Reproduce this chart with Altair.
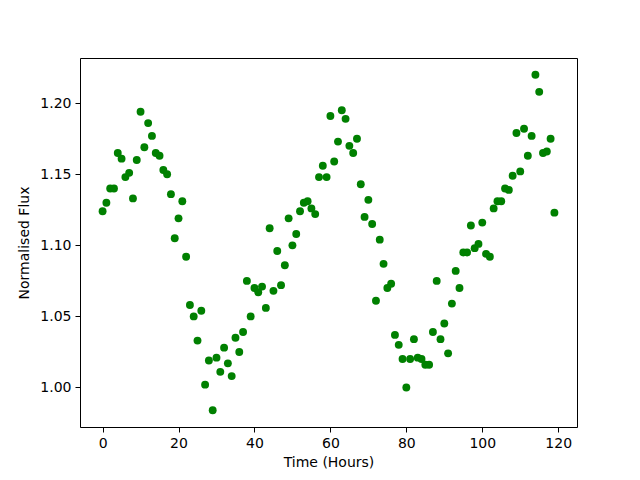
import altair as alt
import pandas as pd

hours = list(range(120))
flux = [
    1.124, 1.130, 1.140, 1.140, 1.165, 1.161, 1.148, 1.151, 1.133, 1.160,
    1.194, 1.169, 1.186, 1.177, 1.165, 1.163, 1.153, 1.150, 1.136, 1.105,
    1.119, 1.131, 1.092, 1.058, 1.050, 1.033, 1.054, 1.002, 1.019, 0.984,
    1.021, 1.011, 1.028, 1.017, 1.008, 1.035, 1.025, 1.039, 1.075, 1.050,
    1.070, 1.067, 1.071, 1.056, 1.112, 1.068, 1.096, 1.072, 1.086, 1.119,
    1.100, 1.108, 1.124, 1.130, 1.131, 1.126, 1.122, 1.148, 1.156, 1.148,
    1.191, 1.159, 1.173, 1.195, 1.189, 1.170, 1.165, 1.175, 1.143, 1.120,
    1.132, 1.115, 1.061, 1.104, 1.087, 1.070, 1.073, 1.037, 1.030, 1.020,
    1.000, 1.020, 1.034, 1.021, 1.020, 1.016, 1.016, 1.039, 1.075, 1.034,
    1.045, 1.024, 1.059, 1.082, 1.070, 1.095, 1.095, 1.114, 1.098, 1.101,
    1.116, 1.094, 1.092, 1.126, 1.131, 1.131, 1.140, 1.139, 1.149, 1.179,
    1.152, 1.182, 1.163, 1.177, 1.220, 1.208, 1.165, 1.166, 1.175, 1.123,
]
x_ticks = [0, 20, 40, 60, 80, 100, 120]
y_ticks = [1.00, 1.05, 1.10, 1.15, 1.20]

df = pd.DataFrame({"hours": hours, "flux": flux})

FONT = "DejaVu Sans"
xscale = alt.Scale(domain=[-5.95, 124.95], nice=False, zero=False)
yscale = alt.Scale(domain=[0.9722, 1.2318], nice=False, zero=False)

common = dict(
    grid=False, tickSize=5, tickColor="black", domainColor="black",
    domainWidth=1, tickWidth=1,
    labelFontSize=14, titleFontSize=14, labelPadding=4,
    labelFont=FONT, titleFont=FONT, labelColor="black", titleColor="black",
    titleFontWeight="normal",
)

points = alt.Chart(df).mark_circle(size=62, color="#008000", opacity=1).encode(
    x=alt.X(
        "hours:Q", scale=xscale,
        axis=alt.Axis(title="Time (Hours)", values=x_ticks, format="d",
                      titlePadding=5, **common),
    ),
    y=alt.Y(
        "flux:Q", scale=yscale,
        axis=alt.Axis(title="Normalised Flux", values=y_ticks, format=".2f",
                      titlePadding=8, **common),
    ),
)

frame = alt.Chart(df).mark_circle(opacity=0).encode(
    x=alt.X("hours:Q", scale=xscale,
            axis=alt.Axis(orient="top", title=None, labels=False, ticks=False,
                          grid=False, domainColor="black", domainWidth=1)),
    y=alt.Y("flux:Q", scale=yscale,
            axis=alt.Axis(orient="right", title=None, labels=False, ticks=False,
                          grid=False, domainColor="black", domainWidth=1)),
)

chart = alt.layer(points, frame).resolve_axis(
    x="independent", y="independent"
).properties(
    width=497,
    height=369,
    autosize=alt.AutoSizeParams(type="none"),
    padding={"left": 72, "top": 50, "right": 55, "bottom": 45},
).configure_view(
    stroke=None
).configure(background="white")

chart.save("out.html", embed_options={"renderer": "svg", "actions": False})
